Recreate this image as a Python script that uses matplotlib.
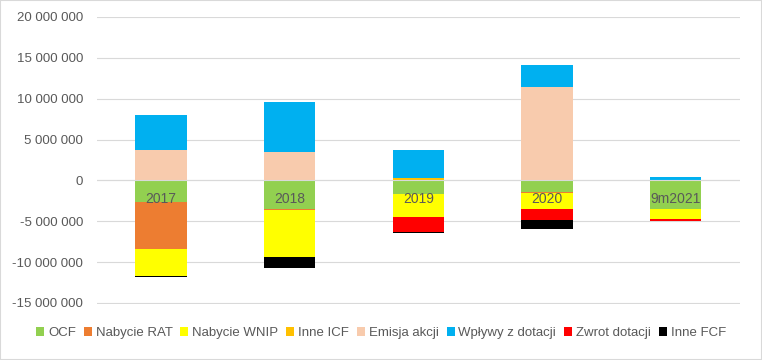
import numpy as np
import matplotlib.pyplot as plt
from matplotlib.patches import Patch, Rectangle
from matplotlib.ticker import FuncFormatter

# data (PLN)
years = ['2017', '2018', '2019', '2020', '9m2021']
series = ['OCF', 'Nabycie RAT', 'Nabycie WNIP', 'Inne ICF', 'Emisja akcji',
          'Wpływy z dotacji', 'Zwrot dotacji', 'Inne FCF']
colors = ['#92D050', '#ED7D31', '#FFFF00', '#FFC000', '#F8CBAD',
          '#00B0F0', '#FF0000', '#000000']

ocf = [-2650000, -3550000, -1650000, -1450000, -3550000]
rat = [-5800000, -50000, 0, -150000, 0]
wnip = [-3250000, -5800000, -2850000, -1950000, -1200000]
inne_icf = [0, 0, 300000, 0, 0]
emisja = [3670000, 3430000, 0, 11400000, 0]
wplywy = [4300000, 6150000, 3370000, 2700000, 400000]
zwrot = [0, 0, -1850000, -1350000, -250000]
inne_fcf = [-120000, -1350000, -100000, -1100000, 0]

values = [ocf, rat, wnip, inne_icf, emisja, wplywy, zwrot, inne_fcf]

plt.rcParams['font.family'] = ['Liberation Sans', 'DejaVu Sans']
grey = '#595959'

fig = plt.figure(figsize=(7.62, 3.6), dpi=100)
ax = fig.add_axes([0.127, 0.155, 0.844, 0.798])

x = np.arange(len(years))
pos_base = np.zeros(len(years))
neg_base = np.zeros(len(years))
for name, vals, c in zip(series, values, colors):
    v = np.array(vals, dtype=float)
    pos = np.where(v > 0, v, 0)
    neg = np.where(v < 0, v, 0)
    ax.bar(x, pos, 0.4, bottom=pos_base, color=c, zorder=2)
    ax.bar(x, neg, 0.4, bottom=neg_base, color=c, zorder=2)
    pos_base += pos
    neg_base += neg

ax.axhline(0, color='#d9d9d9', lw=0.8, zorder=3)
ax.set_xlim(-0.5, len(years) - 0.5)
ax.set_ylim(-15150000, 20000000)
ax.set_yticks(np.arange(-15000000, 20000001, 5000000))
ax.yaxis.set_major_formatter(FuncFormatter(lambda v, p: f"{int(v):,}".replace(',', ' ')))
ax.grid(axis='y', color='#d9d9d9', lw=0.8, zorder=0)
ax.set_axisbelow(True)

for s in ax.spines.values():
    s.set_visible(False)
ax.set_xticks([])
ax.tick_params(axis='y', length=0, pad=10, labelsize=9.5, labelcolor=grey)

# category labels sit just under the zero line, over the bars
for xi, yr in zip(x, years):
    ax.annotate(yr, (xi, 0), xytext=(0, -13.5), textcoords='offset points',
                ha='center', va='center', fontsize=10, color=grey, zorder=5)

handles = [Patch(facecolor=c, label=n) for n, c in zip(series, colors)]
fig.legend(handles=handles, loc='center', bbox_to_anchor=(0.5, 0.075), ncol=8,
           frameon=False, fontsize=9.5, labelcolor=grey, handlelength=0.6,
           handleheight=0.6, handletextpad=0.3, columnspacing=0.6)

fig.patches.append(Rectangle((0, 0), 1, 1, transform=fig.transFigure,
                             fill=False, edgecolor='#d9d9d9', lw=1.5))

fig.savefig('out.png', dpi=100)
